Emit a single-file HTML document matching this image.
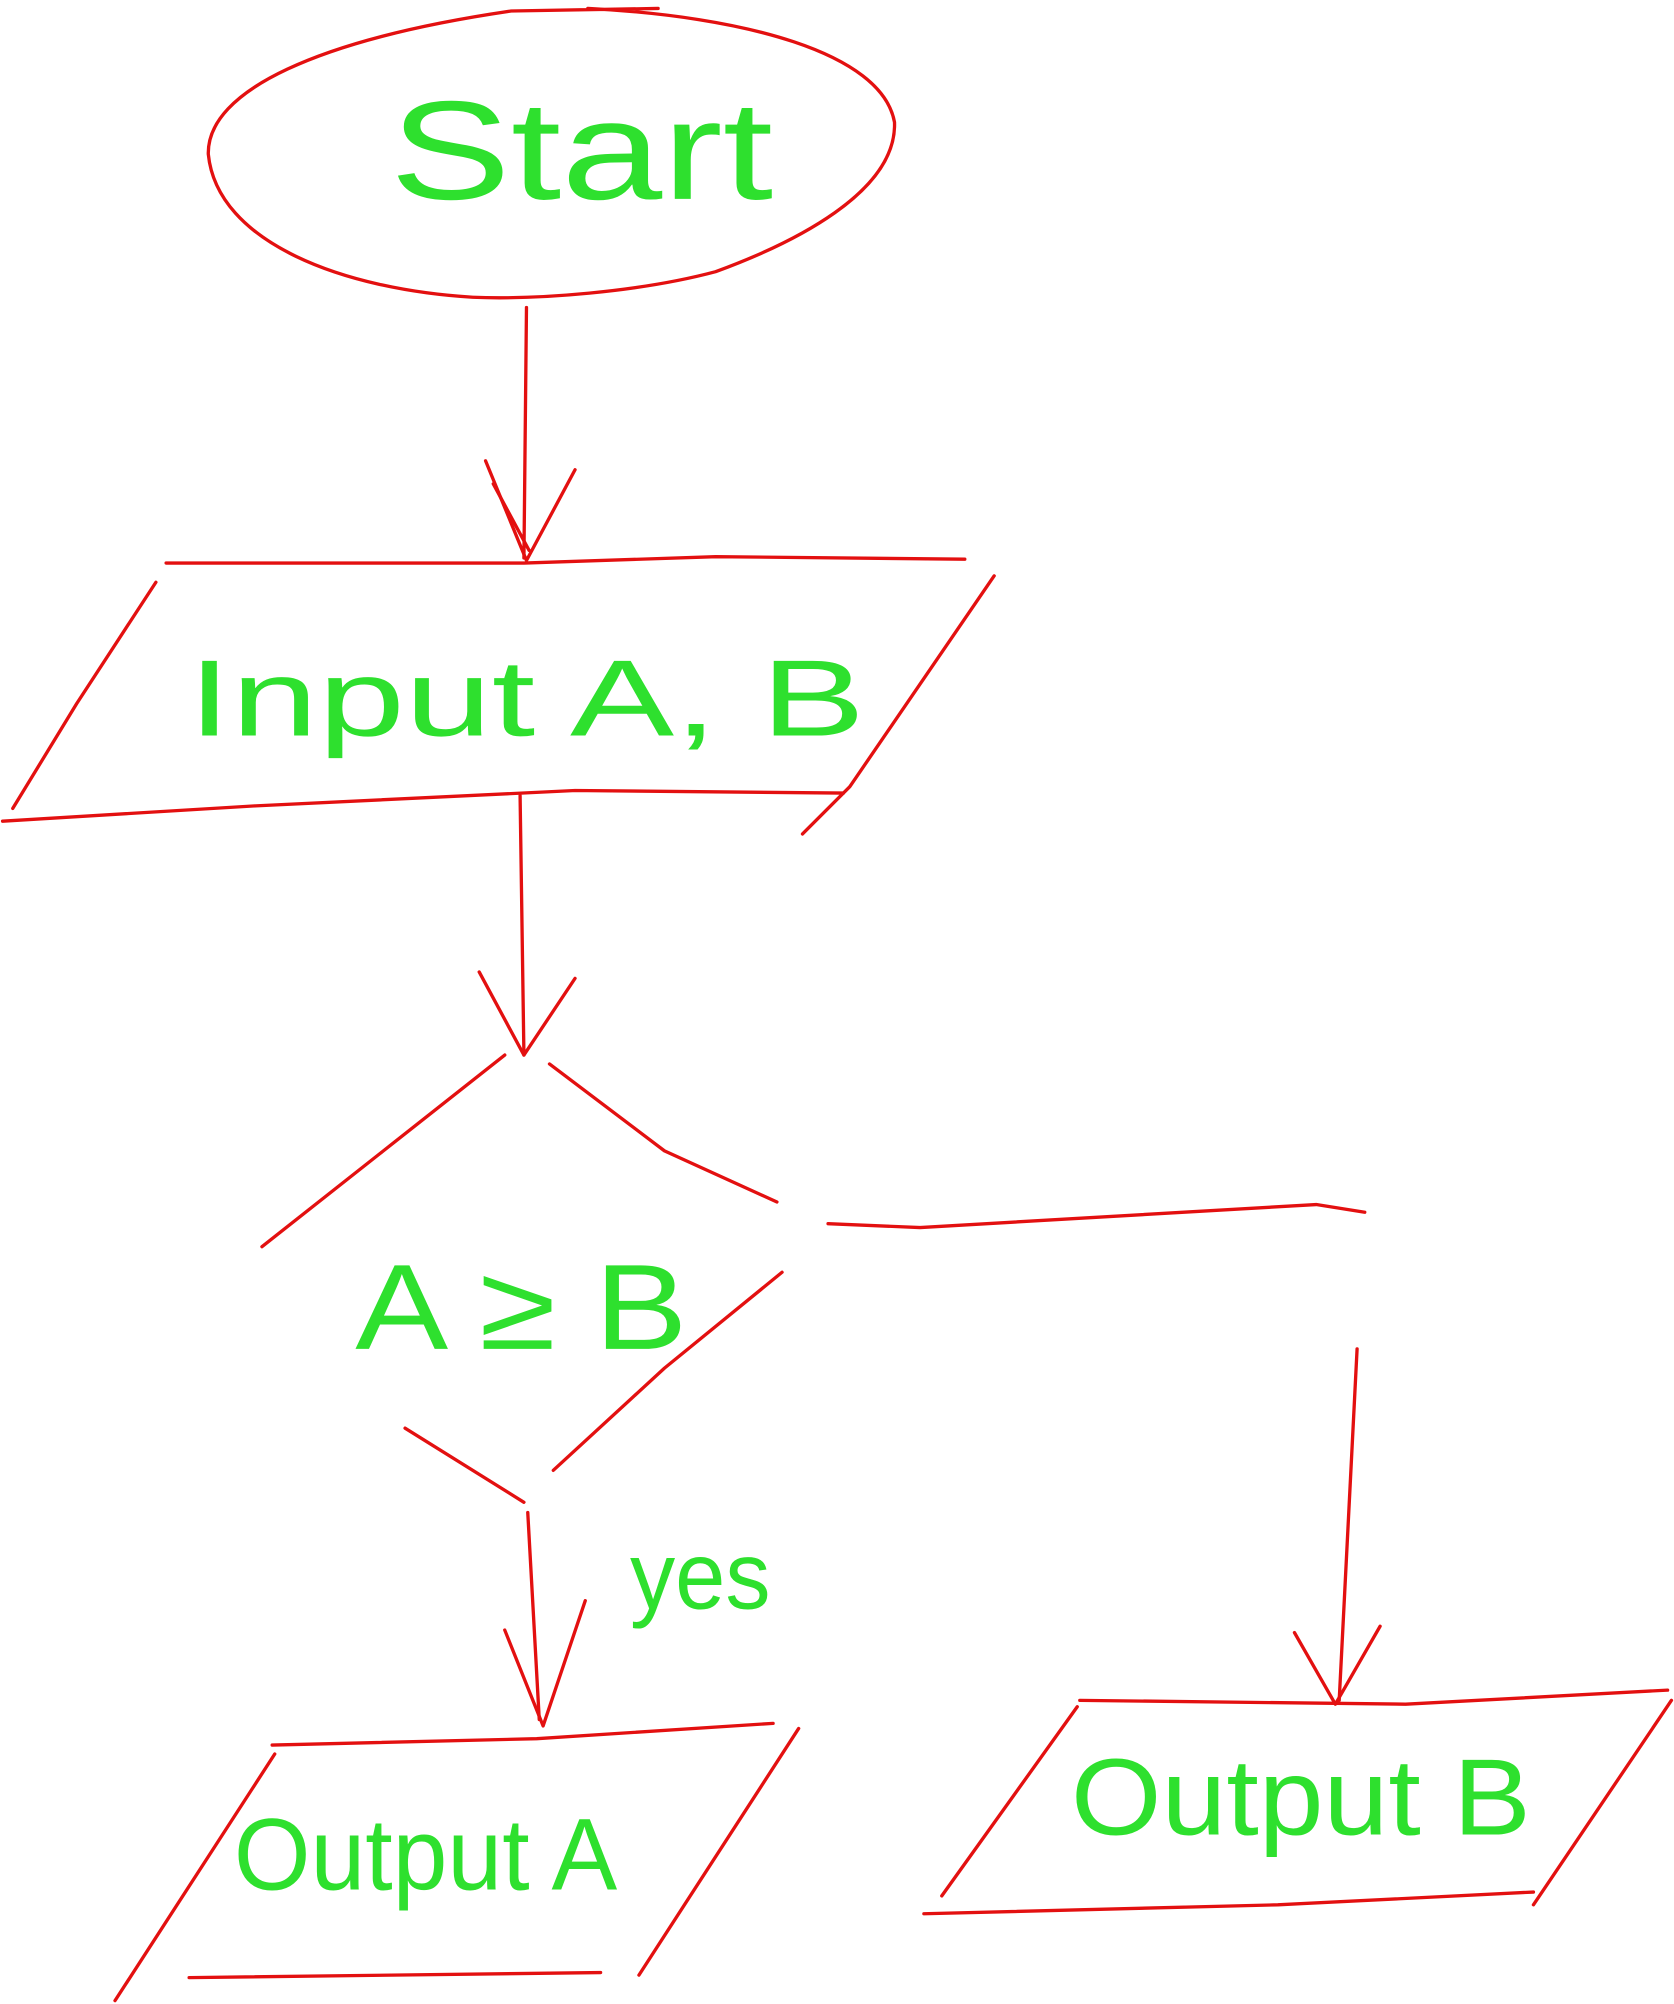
<!DOCTYPE html>
<html><head><meta charset="utf-8"><style>
html,body{margin:0;padding:0;background:#fff;}
svg{display:block;}
</style></head><body>
<svg width="1674" height="2004" viewBox="0 0 1310 1567" xmlns="http://www.w3.org/2000/svg">
<g fill="none" stroke="#e31010" stroke-width="2.6" stroke-linejoin="round" stroke-linecap="round">
<!-- Start ellipse -->
<path d="M460,6 C580,12 690,40 700,95 C702,150 620,190 560,212 C500,228 420,234 370,232 C270,226 170,190 163,120 C162,70 250,30 400,8 L515,6"/>
<!-- arrow 1 -->
<path d="M412,240 L410,436"/>
<path d="M380,360 L412,438 L450,367"/>
<path d="M386,378 L414,430"/>
<!-- Input parallelogram -->
<path d="M130,440 L410,440 L560,435 L755,437"/>
<path d="M778,450 L665,615 L628,652"/>
<path d="M2,642 L200,630 L450,618 L660,620"/>
<path d="M122,455 L60,550 L10,632"/>
<!-- arrow 2 -->
<path d="M407,622 L410,825"/>
<path d="M375,760 L410,825 L450,765"/>
<!-- diamond -->
<path d="M395,825 L300,900 L205,975"/>
<path d="M430,832 L520,900 L608,940"/>
<path d="M612,995 L520,1070 L433,1150"/>
<path d="M317,1117 L410,1175"/>
<!-- right branch -->
<path d="M648,957 L720,960 L1030,942 L1068,948"/>
<path d="M1062,1055 L1048,1330"/>
<path d="M1013,1277 L1045,1333 L1080,1272"/>
<!-- Output B -->
<path d="M845,1330 L1100,1333 L1305,1322"/>
<path d="M1308,1330 L1200,1490"/>
<path d="M723,1497 L1000,1490 L1200,1480"/>
<path d="M843,1335 L737,1483"/>
<!-- yes arrow -->
<path d="M413,1183 L422,1345"/>
<path d="M395,1275 L425,1350 L458,1252"/>
<!-- Output A -->
<path d="M213,1365 L420,1360 L605,1348"/>
<path d="M625,1352 L500,1545"/>
<path d="M148,1547 L470,1543"/>
<path d="M215,1372 L90,1565"/>
</g>
<g fill="#2ee02e" font-family="Liberation Sans, sans-serif" text-anchor="middle" font-weight="normal">
<text x="455" y="155" font-size="110" textLength="300" lengthAdjust="spacingAndGlyphs">Start</text>
<text x="412" y="575" font-size="85" textLength="530" lengthAdjust="spacingAndGlyphs">Input A, B</text>
<text x="408" y="1055" font-size="95" textLength="260" lengthAdjust="spacingAndGlyphs">A ≥ B</text>
<text x="548" y="1258" font-size="75" textLength="110" lengthAdjust="spacingAndGlyphs">yes</text>
<text x="333" y="1478" font-size="80" textLength="300" lengthAdjust="spacingAndGlyphs">Output A</text>
<text x="1018" y="1435" font-size="85" textLength="360" lengthAdjust="spacingAndGlyphs">Output B</text>
</g>
</svg>
</body></html>
